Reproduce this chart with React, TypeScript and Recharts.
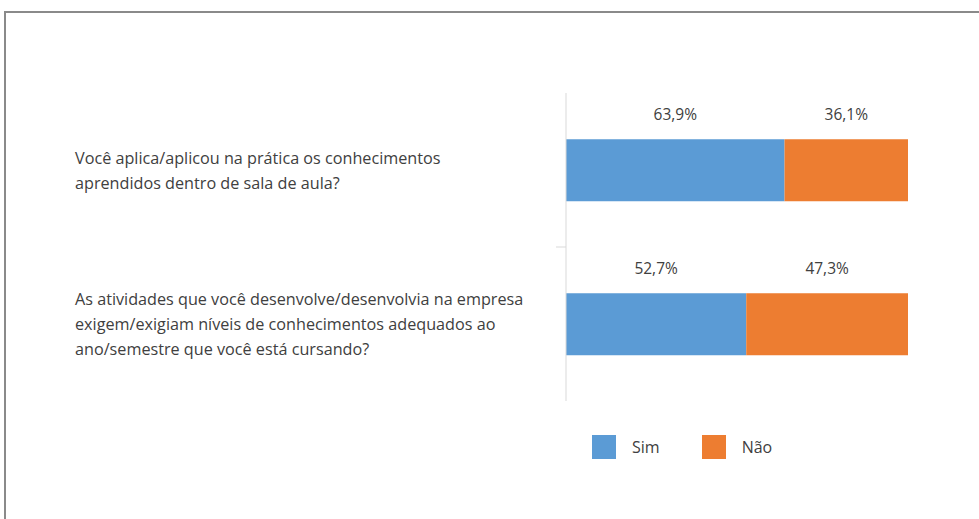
import React from "react";
import { BarChart, Bar, XAxis, YAxis, LabelList, Legend } from "recharts";

const categories = [
  "Você aplica/aplicou na prática os conhecimentos\naprendidos dentro de sala de aula?",
  "As atividades que você desenvolve/desenvolvia na empresa\nexigem/exigiam níveis de conhecimentos adequados ao\nano/semestre que você está cursando?",
];
const simValues = [63.9, 52.7];
const naoValues = [36.1, 47.3];
const seriesNames = ["Sim", "Não"];
const seriesColors = ["#5B9BD5", "#ED7D31"];

const data = categories.map((c, i) => ({
  category: c,
  sim: simValues[i],
  nao: naoValues[i],
}));

const FONT = "'Open Sans', sans-serif";
const TEXT = "#404040";

const fmt = (v: number) => v.toFixed(1).replace(".", ",") + "%";

const CategoryTick = (props: any) => {
  const { x, y, payload, index, visibleTicksCount } = props;
  const lines = String(payload.value).split("\n");
  const lh = 25;
  const startY = y - ((lines.length - 1) * lh) / 2;
  const half = payload && typeof payload.offset === "number" ? payload.offset : 0;
  const showBoundary = half > 0 && index < (visibleTicksCount ?? 2) - 1;
  return (
    <g>
      {showBoundary && (
        <line x1={x - 10} x2={x} y1={y + half} y2={y + half} stroke="#d9d9d9" strokeWidth={1} />
      )}
      <text x={75} y={startY} textAnchor="start" fill={TEXT} fontFamily={FONT} fontSize={16.2}>
        {lines.map((l: string, i: number) => (
          <tspan key={i} x={75} y={startY + i * lh} dominantBaseline="central">
            {l}
          </tspan>
        ))}
      </text>
    </g>
  );
};

const TopLabel = (props: any) => {
  const { x, y, width, value } = props;
  return (
    <text
      x={x + width / 2}
      y={y - 25}
      textAnchor="middle"
      dominantBaseline="central"
      fill={TEXT}
      fontFamily={FONT}
      fontSize={15.5}
    >
      {fmt(value)}
    </text>
  );
};

const LegendContent = () => (
  <div style={{ display: "flex", alignItems: "center", fontFamily: FONT, fontSize: 16, color: TEXT }}>
    {seriesNames.map((n, i) => (
      <div key={n} style={{ display: "flex", alignItems: "center", marginRight: i === 0 ? 42 : 0 }}>
        <div style={{ width: 24, height: 24, background: seriesColors[i], marginRight: 16 }} />
        <span>{n}</span>
      </div>
    ))}
  </div>
);

export default function App() {
  return (
    <div style={{ position: "absolute", left: 0, top: 0, width: 979, height: 519, background: "#fff" }}>
      <div
        style={{
          position: "absolute",
          left: 4,
          top: 11,
          width: 975,
          height: 508,
          borderLeft: "2px solid #8a8a8a",
          borderTop: "2px solid #8a8a8a",
          boxSizing: "border-box",
        }}
      />
      <div style={{ position: "absolute", left: 0, top: 0 }}>
        <BarChart
          width={979}
          height={519}
          layout="vertical"
          data={data}
          margin={{ top: 93, right: 71, bottom: 118, left: 0 }}
          barCategoryGap="30%"
        >
          <XAxis type="number" domain={[0, 100]} hide />
          <YAxis
            type="category"
            dataKey="category"
            width={566}
            axisLine={{ stroke: "#d9d9d9" }}
            tickLine={false}
            tickSize={0}
            tickMargin={0}
            tick={<CategoryTick />}
          />
          <Legend
            content={<LegendContent />}
            wrapperStyle={{ position: "absolute", left: 592, top: 435, width: 300, height: 0, overflow: "visible" }}
          />
          <Bar dataKey="sim" name={seriesNames[0]} stackId="a" fill={seriesColors[0]} isAnimationActive={false}>
            <LabelList dataKey="sim" content={<TopLabel />} />
          </Bar>
          <Bar dataKey="nao" name={seriesNames[1]} stackId="a" fill={seriesColors[1]} isAnimationActive={false}>
            <LabelList dataKey="nao" content={<TopLabel />} />
          </Bar>
        </BarChart>
      </div>
    </div>
  );
}
